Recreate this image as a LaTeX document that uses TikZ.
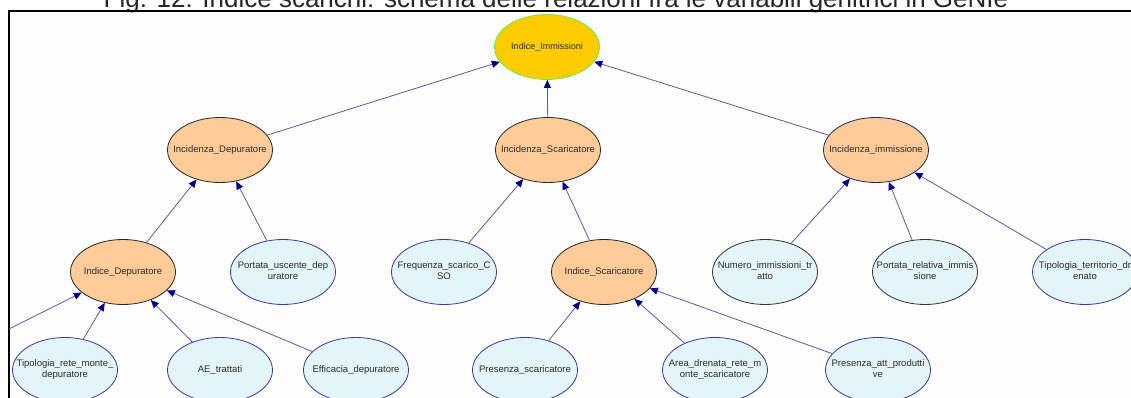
\documentclass[tikz,border=0pt]{standalone}
\usepackage{fontspec}
\setmainfont{Liberation Sans}
\usetikzlibrary{arrows.meta,shapes.geometric}
\definecolor{goldfill}{HTML}{FFCC00}
\definecolor{goldedge}{HTML}{66EE44}
\definecolor{peach}{HTML}{FFCC99}
\definecolor{leaf}{HTML}{E3F5F7}
\definecolor{leafedge}{HTML}{3838A8}
\definecolor{darkedge}{HTML}{26265A}
\definecolor{linkline}{HTML}{5A5AB0}
\definecolor{linktip}{HTML}{000088}
\definecolor{txt}{HTML}{2A2A2A}
\definecolor{panel}{HTML}{FDFDFD}
% label that takes no room, so the ellipse keeps its set size
\newcommand\vlabel[1]{\makebox[0pt]{\begin{tabular}{@{}c@{}}#1\end{tabular}}}
\begin{document}
\begin{tikzpicture}[x=1pt,y=-1pt,
  var/.style={ellipse, minimum width=105pt, minimum height=65pt, inner sep=0pt,
    line width=0.8pt, font=\fontsize{9.5}{11.5}\selectfont, text=txt},
  goal/.style={var, fill=goldfill, draw=goldedge, font=\fontsize{9}{11}\selectfont},
  mid/.style={var, fill=peach, draw=black!85},
  midb/.style={var, fill=peach, draw=darkedge},
  obs/.style={var, fill=leaf, draw=leafedge},
  obsk/.style={var, fill=leaf, draw=black!80},
  link/.style={draw=linkline, line width=0.8pt,
    -{Triangle[length=8pt,width=7pt,color=linktip]}}
]
\useasboundingbox (0,0) rectangle (1131,398);
\clip (0,0) rectangle (1131,398);
\fill[white] (0,0) rectangle (1131,398);
\fill[panel] (9,11) rectangle (1140,410);
\renewcommand\arraystretch{0.95}

% caption line, cut by the top edge
\node[anchor=base, inner sep=0pt, font=\fontsize{26}{30}\selectfont, text=black!85] (caption) at (556,8)
  {Fig. 12: Indice scarichi: schema delle relazioni fra le variabili genitrici in GeNIe};

% window frame
\draw[line width=2pt] (9,410) -- (9,11) -- (1140,11);

% top variable
\node[goal] (IndImm) at (547,47) {\vlabel{Indice\_Immissioni}};

% second level
\node[mid]  (IncDep) at (220,150) {\vlabel{Incidenza\_Depuratore}};
\node[mid]  (IncSca) at (548,150) {\vlabel{Incidenza\_Scaricatore}};
\node[midb] (IncImm) at (876,150) {\vlabel{Incidenza\_immissione}};

% third level
\node[mid]  (IndDep) at (123,272) {\vlabel{Indice\_Depuratore}};
\node[obs]  (PorUsc) at (283,272) {\vlabel{Portata\_uscente\_dep\\uratore}};
\node[obs]  (FreCSO) at (444,272) {\vlabel{Frequenza\_scarico\_C\\SO}};
\node[mid]  (IndSca) at (604,272) {\vlabel{Indice\_Scaricatore}};
\node[obsk] (NumImm) at (765,272) {\vlabel{Numero\_immissioni\_tr\\atto}};
\node[obsk] (PorRel) at (925,272) {\vlabel{Portata\_relativa\_immis\\sione}};
\node[obs]  (TipTer) at (1085,272) {\vlabel{Tipologia\_territorio\_dr\\enato}};

% fourth level
\node[obs] (TipRet) at (65,370)  {\vlabel{Tipologia\_rete\_monte\_\\depuratore}};
\node[obs] (AEtra)  at (220,370) {\vlabel{AE\_trattati}};
\node[obs] (EffDep) at (356,370) {\vlabel{Efficacia\_depuratore}};
\node[obs] (PreSca) at (525,370) {\vlabel{Presenza\_scaricatore}};
\node[obs] (AreDre) at (715,370) {\vlabel{Area\_drenata\_rete\_m\\onte\_scaricatore}};
\node[obs] (PreAtt) at (878,370) {\vlabel{Presenza\_att\_produtti\\ve}};

% parent lying beyond the left border
\coordinate (offLeft) at (9,329);

% arcs, each pointing to its child variable
\draw[link] (IncDep) -- (IndImm);
\draw[link] (IncSca) -- (IndImm);
\draw[link] (IncImm) -- (IndImm);

\draw[link] (IndDep) -- (IncDep);
\draw[link] (PorUsc) -- (IncDep);
\draw[link] (FreCSO) -- (IncSca);
\draw[link] (IndSca) -- (IncSca);
\draw[link] (NumImm) -- (IncImm);
\draw[link] (PorRel) -- (IncImm);
\draw[link] (TipTer) -- (IncImm);

\draw[link] (offLeft) -- (IndDep);
\draw[link] (TipRet) -- (IndDep);
\draw[link] (AEtra)  -- (IndDep);
\draw[link] (EffDep) -- (IndDep);
\draw[link] (PreSca) -- (IndSca);
\draw[link] (AreDre) -- (IndSca);
\draw[link] (PreAtt) -- (IndSca);
\end{tikzpicture}
\end{document}
